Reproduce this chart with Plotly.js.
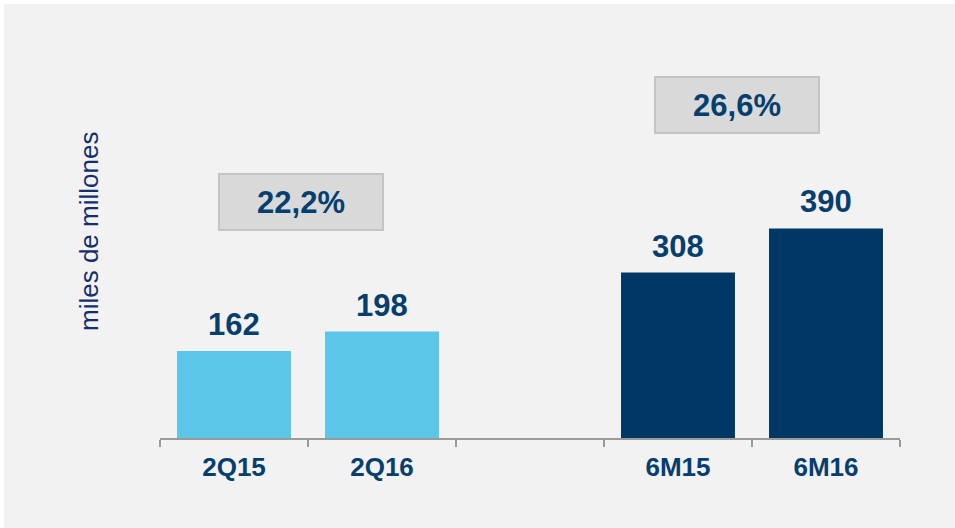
<!DOCTYPE html>
<html>
<head>
<meta charset="utf-8">
<script src="https://cdn.plot.ly/plotly-3.0.1.min.js"></script>
<style>
  html, body { margin: 0; padding: 0; background: #ffffff; width: 955px; height: 528px; overflow: hidden; }
  #chart { position: absolute; left: 4px; top: 4px; width: 951px; height: 524px; }
</style>
</head>
<body>
<div id="chart"></div>
<script>
// Data
const categories = ['2Q15', '2Q16', ' ', '6M15', '6M16'];
const values = [162, 198, null, 308, 390];
const barColors = ['#5bc6e8', '#5bc6e8', '#5bc6e8', '#003865', '#003865'];
const growthLabels = ['22,2%', '26,6%'];
const yTitle = 'miles de millones';

const FONT = '"Liberation Sans", Arial, sans-serif';
const NAVY = '#063e6e';

const trace = {
  type: 'bar',
  x: categories,
  y: values,
  marker: { color: barColors, line: { width: 0 } },
  hoverinfo: 'none',
  showlegend: false
};

const annotations = [];
categories.forEach((c, i) => {
  if (values[i] === null) return;
  annotations.push({
    x: c, y: values[i], xref: 'x', yref: 'y',
    text: '<b>' + values[i] + '</b>',
    showarrow: false, yanchor: 'bottom', yshift: 7,
    font: { family: FONT, size: 31, color: NAVY }
  });
});

const growthBoxes = [
  { x: 0.456, y: 439 },
  { x: 3.399, y: 620 }
];
growthLabels.forEach((t, i) => {
  annotations.push({
    x: growthBoxes[i].x, y: growthBoxes[i].y, xref: 'x', yref: 'y',
    text: '<b>' + t + '</b>',
    showarrow: false, xanchor: 'center', yanchor: 'middle',
    width: 160, height: 52, borderpad: 1, borderwidth: 2,
    bgcolor: '#d9d9d9', bordercolor: '#c4c4c4',
    font: { family: FONT, size: 31, color: NAVY }
  });
});

annotations.push({
  x: 0, y: 0.5, xref: 'paper', yref: 'paper',
  xshift: -71, yshift: -3,
  text: yTitle, textangle: -90, showarrow: false,
  xanchor: 'center', yanchor: 'middle',
  font: { family: FONT, size: 26, color: '#13306b' }
});

const layout = {
  width: 951, height: 524,
  margin: { l: 156, r: 55, t: 16, b: 90 },
  paper_bgcolor: '#f2f2f2',
  plot_bgcolor: '#f2f2f2',
  bargap: 0.23,
  xaxis: {
    type: 'category',
    categoryorder: 'array',
    categoryarray: categories,
    showline: true, linecolor: '#9a9a9a', linewidth: 2,
    ticks: 'outside', tickson: 'boundaries', ticklen: 7, tickwidth: 2, tickcolor: '#9a9a9a',
    ticklabelstandoff: 5,
    showgrid: false, zeroline: false,
    tickfont: { family: FONT, size: 26, color: NAVY, weight: 'bold' },
    fixedrange: true
  },
  yaxis: {
    range: [0, 778],
    showticklabels: false, showgrid: false, zeroline: false, showline: false, ticks: '',
    fixedrange: true
  },
  annotations: annotations,
  font: { family: FONT }
};

Plotly.newPlot('chart', [trace], layout, { displayModeBar: false, staticPlot: true });
</script>
</body>
</html>
